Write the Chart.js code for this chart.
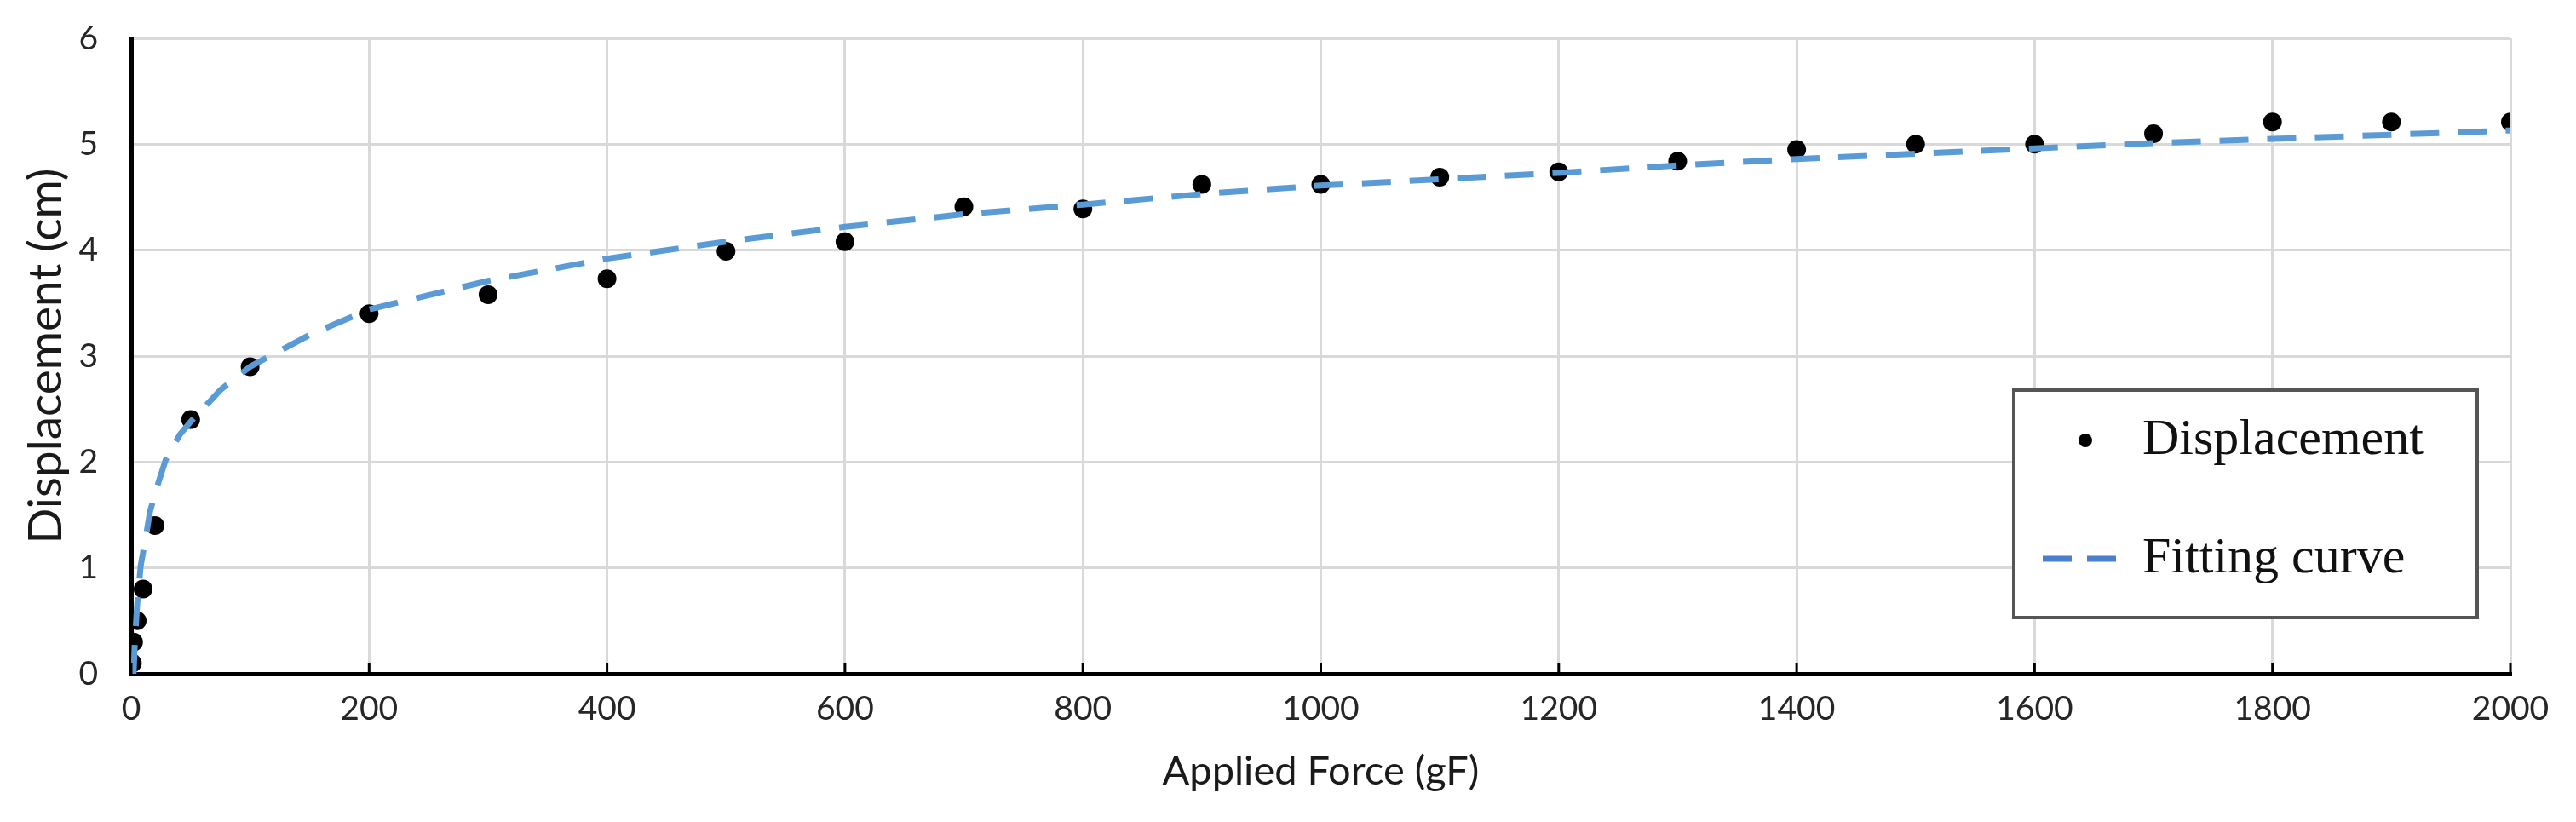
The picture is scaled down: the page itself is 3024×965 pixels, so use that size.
<!DOCTYPE html>
<html>
<head>
<meta charset="utf-8">
<script src="https://cdn.jsdelivr.net/npm/chart.js@4/dist/chart.umd.min.js"></script>
<style>
  html, body { margin: 0; padding: 0; background: #fff; }
  #wrap { width: 3024px; height: 965px; }
</style>
</head>
<body>
<div id="wrap"><canvas id="forceChart" width="3024" height="965"></canvas></div>
<script>
// measured points
const forceValues = [1, 2, 5, 10, 20, 50, 100, 200, 300, 400, 500, 600, 700, 800, 900, 1000,
    1100, 1200, 1300, 1400, 1500, 1600, 1700, 1800, 1900, 2000];
const displacementValues = [0.1, 0.3, 0.5, 0.8, 1.4, 2.4, 2.9, 3.4, 3.58, 3.73, 3.99, 4.08, 4.41, 4.39, 4.62, 4.62,
    4.69, 4.74, 4.84, 4.95, 5.0, 5.0, 5.1, 5.21, 5.21, 5.21];

// fitting curve
const fitForce = [2, 3, 5, 8, 13, 16, 23, 29, 41, 50, 75, 100, 150, 200, 300, 400, 500, 600, 700, 800,
    900, 1000, 1100, 1200, 1300, 1400, 1500, 1600, 1700, 1800, 1900, 2000];
const fitDisplacement = [0.0, 0.28, 0.65, 1.02, 1.34, 1.54, 1.81, 2.02, 2.26, 2.38, 2.68, 2.9, 3.2, 3.44, 3.71, 3.92,
    4.08, 4.22, 4.34, 4.43, 4.53, 4.61, 4.67, 4.73, 4.8, 4.86, 4.91, 4.96, 5.01, 5.05, 5.09, 5.13];

const xTicks = [0, 200, 400, 600, 800, 1000, 1200, 1400, 1600, 1800, 2000];
const yTicks = [0, 1, 2, 3, 4, 5, 6];

const xTitle = 'Applied Force (gF)';
const yTitle = 'Displacement (cm)';
const legendLabels = ['Displacement', 'Fitting curve'];

const CURVE_COLOR = '#5b9bd5';
const GRID_COLOR = '#d9d9d9';

function toPoints(xs, ys) {
    return xs.map((x, i) => ({ x: x, y: ys[i] }));
}

// small inward tick marks on the x axis
const innerTicks = {
    id: 'innerTicks',
    afterDatasetsDraw(chart) {
        const ctx = chart.ctx;
        const xs = chart.scales.x;
        const bottom = chart.chartArea.bottom;
        ctx.save();
        ctx.strokeStyle = '#000';
        ctx.lineWidth = 3;
        xs.ticks.forEach(t => {
            const px = xs.getPixelForValue(t.value);
            ctx.beginPath();
            ctx.moveTo(px, bottom);
            ctx.lineTo(px, bottom - 13);
            ctx.stroke();
        });
        ctx.restore();
    }
};

// boxed legend inside the plot, lower right
const boxLegend = {
    id: 'boxLegend',
    afterDraw(chart) {
        const ctx = chart.ctx;
        const area = chart.chartArea;
        const right = area.right - 39;
        const left = right - 544;
        const top = area.top + 413;
        const bottom = top + 267;
        ctx.save();
        ctx.fillStyle = '#fff';
        ctx.fillRect(left, top, right - left, bottom - top);
        ctx.strokeStyle = '#555';
        ctx.lineWidth = 4;
        ctx.strokeRect(left, top, right - left, bottom - top);

        const row1 = top + 59;
        const row2 = top + 198;

        // point marker
        ctx.fillStyle = '#000';
        ctx.beginPath();
        ctx.arc(left + 84, row1, 8, 0, Math.PI * 2);
        ctx.fill();

        // dashed line marker
        ctx.strokeStyle = '#4a7fcb';
        ctx.lineWidth = 7;
        ctx.beginPath();
        ctx.moveTo(left + 34, row2);
        ctx.lineTo(left + 68, row2);
        ctx.moveTo(left + 86, row2);
        ctx.lineTo(left + 120, row2);
        ctx.stroke();

        ctx.fillStyle = '#111';
        ctx.font = '60px "Liberation Serif", "DejaVu Serif", serif';
        ctx.textBaseline = 'middle';
        ctx.textAlign = 'left';
        ctx.fillText(legendLabels[0], left + 151, row1);
        ctx.fillText(legendLabels[1], left + 151, row2);
        ctx.restore();
    }
};

const ctx = document.getElementById('forceChart').getContext('2d');
const chart = new Chart(ctx, {
    type: 'scatter',
    data: {
        datasets: [{
            label: legendLabels[1],
            data: toPoints(fitForce, fitDisplacement),
            showLine: true,
            borderColor: CURVE_COLOR,
            borderWidth: 7,
            borderDash: [34, 22],
            pointRadius: 0,
            fill: false,
            tension: 0
        }, {
            label: legendLabels[0],
            data: toPoints(forceValues, displacementValues),
            showLine: false,
            pointRadius: 11,
            pointBackgroundColor: '#000',
            pointBorderColor: '#000',
            pointBorderWidth: 0
        }]
    },
    options: {
        responsive: false,
        animation: false,
        layout: { padding: { top: 45, right: 77, left: 0, bottom: 0 } },
        plugins: {
            legend: { display: false },
            tooltip: { enabled: false }
        },
        scales: {
            x: {
                type: 'linear',
                min: 0,
                max: 2000,
                afterBuildTicks: s => { s.ticks = xTicks.map(v => ({ value: v })); },
                afterFit: s => { s.height = 174; },
                grid: { color: GRID_COLOR, lineWidth: 3, drawTicks: false },
                border: { display: true, color: '#000', width: 5 },
                ticks: {
                    padding: 18,
                    color: '#262626',
                    callback: v => String(v),
                    font: { family: 'Lato, "Noto Sans", sans-serif', size: 39 }
                },
                title: {
                    display: true,
                    text: xTitle,
                    color: '#1a1a1a',
                    font: { family: 'Lato, "Noto Sans", sans-serif', size: 47 },
                    padding: { top: 0, bottom: 31 }
                }
            },
            y: {
                type: 'linear',
                min: 0,
                max: 6,
                afterBuildTicks: s => { s.ticks = yTicks.map(v => ({ value: v })); },
                afterFit: s => { s.width = 154; },
                // invisible tick marks give the gap between labels and axis
                grid: { color: GRID_COLOR, lineWidth: 3, drawTicks: true, tickLength: 39, tickColor: 'rgba(0,0,0,0)' },
                border: { display: true, color: '#000', width: 5 },
                ticks: {
                    padding: 0,
                    color: '#262626',
                    callback: v => String(v),
                    font: { family: 'Lato, "Noto Sans", sans-serif', size: 39 }
                },
                title: {
                    display: true,
                    text: yTitle,
                    color: '#1a1a1a',
                    font: { family: 'Lato, "Noto Sans", sans-serif', size: 55 },
                    padding: { top: 21, bottom: 0 }
                }
            }
        }
    },
    plugins: [innerTicks, boxLegend]
});
</script>
</body>
</html>
